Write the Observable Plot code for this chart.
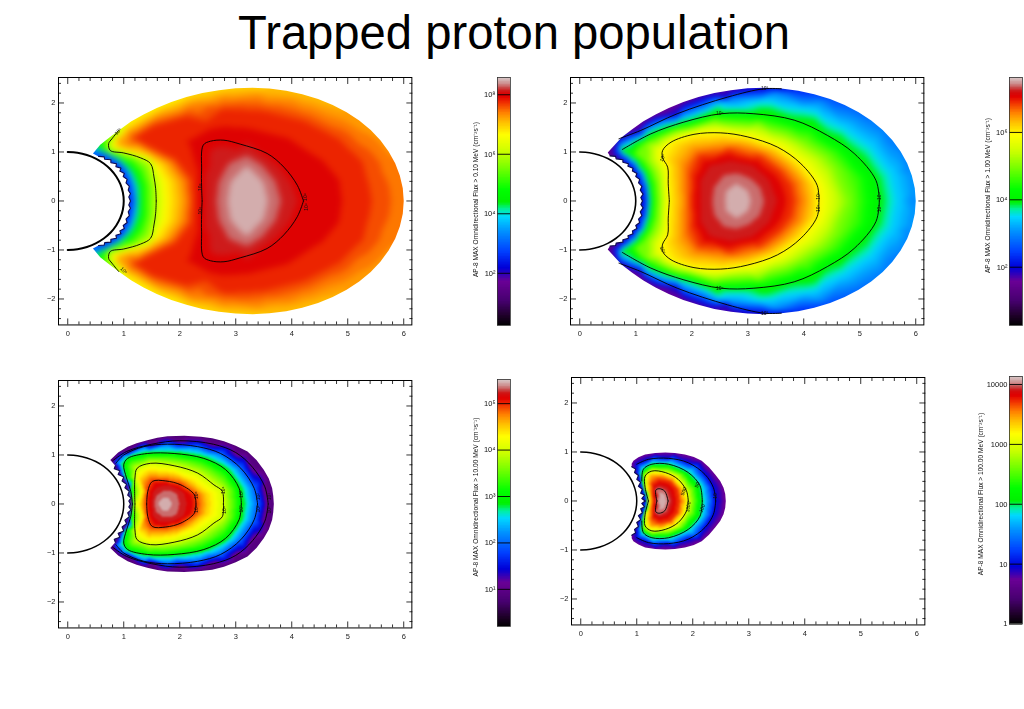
<!DOCTYPE html>
<html><head><meta charset="utf-8">
<script src="https://cdn.jsdelivr.net/npm/d3@7"></script>
<script src="https://cdn.jsdelivr.net/npm/@observablehq/plot@0.6"></script>
<style>
html,body{margin:0;padding:0;background:#fff;overflow:hidden}
#page{position:relative;width:1024px;height:709px;overflow:hidden;font-family:"Liberation Sans",Arial,sans-serif}
#title{position:absolute;left:0;width:1028px;top:5px;text-align:center;font-size:47.2px;line-height:56px;color:#000}
#page svg{position:absolute;max-width:none;background:transparent;filter:blur(.35px)}
</style></head><body><div id="page"><div id="title">Trapped proton population</div></div>
<script>
// ---- shared axes
const xMajor=[0,1,2,3,4,5,6];
const yMajor=[-2,-1,0,1,2];
const xMinor=[0.2,0.4,0.6,0.8,1.2,1.4,1.6,1.8,2.2,2.4,2.6,2.8,3.2,3.4,3.6,3.8,4.2,4.4,4.6,4.8,5.2,5.4,5.6,5.8];
const yMinor=[-2.4,-2.2,-1.8,-1.6,-1.4,-1.2,-0.8,-0.6,-0.4,-0.2,0.2,0.4,0.6,0.8,1.2,1.4,1.6,1.8,2.2,2.4];
const earthAngles=[90,80,70,60,50,40,30,20,10,0,-10,-20,-30,-40,-50,-60,-70,-80,-90];
// ---- colour table (position on bar, colour)
const rampPos=[0,.04,.1,.18,.235,.3,.38,.44,.47,.5,.55,.62,.7,.77,.82,.86,.9,.925,.945,.96,.975,1];
const rampCol=["#000000","#1e0028","#46006e","#6a0096","#0000d8","#0040ff","#0090ff","#00d8ff","#00f0a0","#00f000","#00ff00","#60ff00","#c8ff00","#ffff00","#ffc000","#ff8000","#f03000","#e00000","#d01010","#c84848","#cc8888","#d8c8c8"];
const bandCount=48;

// ---- panel 1 : > 0.10 MeV (x, y, log10 flux on rim)
const p1Rim=[[6,0,7.42],[5.983,.261,7.42],[5.93,.52,7.4],[5.847,.77,7.38],[5.73,1.01,7.35],[5.583,1.238,7.33],[5.41,1.45,7.3],[5.205,1.641,7.25],[4.98,1.81,7.2],[4.731,1.96,7.15],[4.47,2.08,7.1],[4.187,2.18,7.07],[3.9,2.25,7.05],[3.6,2.293,7.02],[3.3,2.31,7],[2.996,2.299,6.97],[2.7,2.26,6.95],[2.405,2.203,6.9],[2.12,2.12,6.85],[1.85,2.019,6.8],[1.59,1.9,6.75],[1.354,1.764,6.72],[1.13,1.62,6.7],[.91,1.44,6],[.75,1.3,5.6],[.58,1.15,4.8],[.45,.97,3]];
const p1Jag=[[1.12,0],[1.09,.08],[1.12,.15],[1.08,.22],[1.1,.3],[1.04,.37],[1.06,.44],[.99,.5],[1.01,.56],[.93,.61],[.95,.67],[.86,.7],[.87,.76],[.77,.78],[.77,.84],[.66,.85],[.65,.9],[.55,.91]];
const p1v25=[[1.14,0],[1.1,.2],[1.05,.4],[.98,.55],[.9,.7],[.75,.82],[.6,.92],[.47,.97]];
const p1v35=[[1.21,0],[1.19,.25],[1.12,.5],[1.02,.7],[.85,.87],[.7,.97],[.5,1.03]];
const p1v45=[[1.3,0],[1.28,.3],[1.2,.55],[1.05,.75],[.85,.9],[.68,1],[.55,1.1]];
const p1v53=[[1.42,0],[1.4,.4],[1.32,.65],[1.15,.85],[.9,.95],[.7,1.02],[.65,1.2]];
const p1v6=[[1.58,0],[1.57,.25],[1.54,.49],[1.48,.76],[1.3,.88],[1,.98],[.76,1.03],[.73,1.17],[.79,1.27],[.91,1.44]];
const p1v666=[[1.75,0],[1.72,.4],[1.55,.75],[1.3,.92],[1,1.02],[.82,1.1],[.85,1.25],[1,1.5]];
const p1v733=[[2.1,0],[2.05,.4],[1.82,.78],[1.45,1],[1.05,1.12],[.9,1.2],[1.1,1.42],[1.6,1.72],[2.2,1.98],[2.8,2.12],[3.4,2.15],[4,2.05],[4.6,1.8],[5.2,1.5]];
const p1v775=[[2.25,0],[2.22,.45],[1.95,.85],[1.5,1.1],[1.2,1.28],[1.5,1.5],[2.1,1.7],[2.8,1.85],[3.5,1.8],[4.2,1.6],[4.8,1.25],[5.2,.8],[5.3,.35],[5.35,0]];
const p1v79=[[2.32,0],[2.32,.7],[2.2,1.2],[2.6,1.45],[3.2,1.45],[3.9,1.25],[4.5,.8],[4.8,.4],[4.85,0]];
const p1v8=[[2.4,0],[2.39,.3],[2.39,.63],[2.42,1.14],[2.55,1.22],[2.79,1.24],[3.08,1.16],[3.56,.97],[3.86,.69],[4.1,.32],[4.21,0]];
const p1v82=[[2.62,0],[2.66,.4],[2.85,.8],[3.2,.97],[3.5,.75],[3.75,.4],[3.85,0]];
const p1v845=[[2.9,0],[2.95,.35],[3.2,.65],[3.45,.35],[3.52,0]];
const p1v855=[[3.2,0]];
const p1Levels=[[2.5,p1v25],[3.5,p1v35],[4.5,p1v45],[5.3,p1v53],[6,p1v6],[6.66,p1v666],[7.33,p1v733],[7.75,p1v775],[7.9,p1v79],[8,p1v8],[8.2,p1v82],[8.45,p1v845],[8.55,p1v855]];
const p1Lines=[p1v6,p1v8];
const p1Labels=[["10⁸",2.36,.28,-90],["10⁸",2.36,-.2,-90],["10⁸",4.24,.08,-90],["10⁸",4.26,-.12,-90],["10⁶",.9,1.42,-45],["10⁶",1,-1.42,45]];

// ---- panel 2 : > 1.00 MeV
const p2Rim=[[6,0,3.05],[5.983,.261,3.05],[5.93,.52,3.05],[5.847,.77,3.02],[5.73,1.01,3],[5.583,1.238,2.98],[5.41,1.45,2.95],[5.205,1.641,2.88],[4.98,1.81,2.8],[4.731,1.96,2.7],[4.47,2.08,2.6],[4.187,2.18,2.45],[3.9,2.25,2.3],[3.6,2.293,2.1],[3.3,2.31,1.95],[2.996,2.299,1.85],[2.7,2.26,1.75],[2.405,2.203,1.7],[2.12,2.12,1.65],[1.85,2.019,1.6],[1.59,1.9,1.55],[1.354,1.764,1.5],[1.13,1.62,1.5],[.931,1.461,1.5],[.75,1.3,1.5],[.5,.99,1.3]];
const p2Jag=[[1.12,0],[1.09,.07],[1.13,.14],[1.08,.22],[1.11,.3],[1.05,.37],[1.07,.44],[1,.5],[1.02,.56],[.94,.61],[.95,.67],[.86,.71],[.87,.76],[.77,.79],[.77,.84],[.65,.86],[.64,.91],[.54,.92]];
const p2v2=[[1.14,0],[1.08,.3],[1,.55],[.9,.7],[.75,.85],[.6,.98],[.7,1.27],[1.09,1.44],[1.74,1.78],[2.64,2.12],[3.29,2.29],[3.6,2.29]];
const p2v3=[[1.22,0],[1.2,.3],[1.12,.55],[1,.75],[.85,.9],[.7,1.05],[.8,1.2],[1.15,1.42],[1.8,1.72],[2.7,2.07],[3.5,2.2],[4.3,2.03],[4.95,1.7],[5.5,1.2],[5.85,.6],[5.95,0]];
const p2v35=[[1.25,0],[1.22,.3],[1.15,.55],[1.03,.75],[.88,.92],[.72,1.06],[1.2,1.39],[1.85,1.67],[2.5,1.98],[3.2,2.03],[4,1.87],[4.7,1.5],[5.2,1.1],[5.55,.55],[5.65,0]];
const p2v4=[[1.27,0],[1.25,.3],[1.18,.55],[1.05,.75],[.9,.92],[.76,1.05],[1.27,1.37],[1.86,1.61],[2.52,1.78],[3.11,1.78],[3.83,1.65],[4.42,1.34],[4.9,.97],[5.29,.42],[5.35,0]];
const p2v45=[[1.33,0],[1.31,.32],[1.23,.58],[1.1,.8],[.95,.95],[.82,1.03],[1.3,1.3],[1.9,1.53],[2.5,1.7],[3.3,1.65],[4.1,1.4],[4.6,1],[5,.45],[5.05,0]];
const p2v5=[[1.42,0],[1.4,.35],[1.33,.6],[1.2,.83],[1.05,.98],[1.2,1.17],[1.7,1.42],[2.4,1.62],[3.2,1.58],[4,1.2],[4.55,.7],[4.8,0]];
const p2v6=[[1.6,0],[1.58,.35],[1.57,.69],[1.48,.88],[1.48,1.03],[1.63,1.2],[2.04,1.36],[2.52,1.39],[2.99,1.31],[3.53,1.1],[3.95,.76],[4.24,.32],[4.27,0]];
const p2v65=[[1.85,0],[1.83,.4],[1.83,.75],[2.05,1.07],[2.6,1.15],[3.1,1.08],[3.6,.8],[3.95,.4],[4.03,0]];
const p2v69=[[2,0],[2,.5],[2.15,.9],[2.65,1.03],[3.2,.9],[3.55,.6],[3.75,.3],[3.8,0]];
const p2v715=[[2.12,0],[2.13,.45],[2.3,.75],[2.7,.85],[3.1,.75],[3.4,.45],[3.55,0]];
const p2v73=[[2.33,0],[2.37,.3],[2.55,.55],[2.8,.6],[3.05,.5],[3.25,.3],[3.33,0]];
const p2v748=[[2.6,0],[2.62,.2],[2.8,.35],[3,.2],[3.05,0]];
const p2v755=[[2.85,0]];
const p2Levels=[[2,p2v2],[3,p2v3],[3.5,p2v35],[4,p2v4],[4.5,p2v45],[5,p2v5],[6,p2v6],[6.5,p2v65],[6.9,p2v69],[7.15,p2v715],[7.3,p2v73],[7.48,p2v748],[7.55,p2v755]];
const p2Lines=[p2v2.slice(6),p2v4.slice(5),p2v6];
const p2Labels=[["10⁴",2.5,1.78,0],["10⁴",2.5,-1.78,0],["10²",3.3,2.29,0],["10²",3.3,-2.29,0],["10⁶",1.48,.88,-70],["10⁶",1.48,-1,70],["10⁶",4.27,.1,-90],["10⁶",4.27,-.15,-90],["10⁴",5.35,.1,-90],["10⁴",5.35,-.15,-90]];

// ---- panel 3 : > 10.00 MeV
const p3Rim=[[3.68,0,.9],[3.67,.17,.9],[3.65,.32,.9],[3.59,.52,.9],[3.5,.7,.9],[3.37,.9,.88],[3.21,1.07,.86],[3,1.19,.85],[2.79,1.28,.85],[2.58,1.34,.85],[2.38,1.37,.85],[2.08,1.39,.85],[1.78,1.38,.85],[1.6,1.35,.85],[1.42,1.3,.85],[1.23,1.24,.85],[1.07,1.17,.85],[.9,1.05,.85],[.76,.9,.85]];
const p3Jag=[[1.12,0],[1.09,.06],[1.13,.12],[1.07,.18],[1.1,.26],[1.02,.33],[1.05,.4],[.97,.47],[1,.55],[.9,.6],[.93,.68],[.83,.72],[.85,.78]];
const p3v1=[[1.14,0],[1.07,.3],[1.02,.46],[.92,.62],[.84,.8],[.8,.88],[1.05,1.07],[1.5,1.22],[2,1.29],[2.6,1.22],[3,1.05],[3.3,.75],[3.52,.35],[3.58,0]];
const p3v2=[[1.15,0],[1.1,.26],[1.05,.46],[.96,.64],[.86,.83],[1,1],[1.36,1.17],[1.78,1.22],[2.32,1.17],[2.73,1.03],[3.09,.73],[3.33,.32],[3.39,0]];
const p3v3=[[1.155,0],[1.125,.26],[1.05,.53],[1,.8],[1.07,.93],[1.42,1.03],[1.9,1.03],[2.43,.93],[2.82,.7],[3.06,.32],[3.1,0]];
const p3v4=[[1.2,0],[1.2,.53],[1.24,.73],[1.48,.83],[1.9,.78],[2.32,.63],[2.61,.39],[2.76,.26],[2.78,0]];
const p3v45=[[1.3,0],[1.3,.5],[1.45,.65],[1.8,.62],[2.2,.45],[2.47,.2],[2.5,0]];
const p3v5=[[1.41,0],[1.43,.26],[1.51,.46],[1.75,.47],[2.02,.39],[2.26,.19],[2.29,0]];
const p3v51=[[1.45,0],[1.47,.24],[1.56,.42],[1.75,.43],[2,.33],[2.2,.12],[2.22,0]];
const p3v525=[[1.52,0],[1.55,.2],[1.7,.32],[1.85,.33],[2,.25],[2.05,0]];
const p3v54=[[1.62,0],[1.7,.12],[1.78,.12],[1.85,0]];
const p3Levels=[[1,p3v1],[2,p3v2],[3,p3v3],[4,p3v4],[4.5,p3v45],[5,p3v5],[5.1,p3v51],[5.25,p3v525],[5.42,p3v54]];
const p3Lines=[p3v1.slice(5),p3v2.slice(4),p3v3,p3v4,p3v5];
const p3Labels=[["10⁴",2.78,.28,-90],["10⁴",2.8,-.12,-90],["10³",3.1,.2,-90],["10³",3.1,-.1,-90],["10²",3.4,.15,-90],["10²",3.4,-.1,-90],["10¹",3.6,.15,-90],["10¹",3.6,-.12,-90],["10⁵",2.29,.18,-90],["10⁵",2.29,-.1,-90]];

// ---- panel 4 : > 100.00 MeV
const p4Rim=[[2.59,0,.7],[2.58,.14,.7],[2.55,.27,.7],[2.49,.41,.7],[2.4,.54,.7],[2.29,.69,.7],[2.16,.82,.7],[2.02,.9,.7],[1.86,.95,.7],[1.68,.98,.7],[1.51,.99,.7],[1.33,.98,.7],[1.15,.95,.7],[1.03,.89,.7],[.94,.82,.7],[.91,.76,.7]];
const p4Jag=[[1.15,0],[1.09,.05],[1.14,.12],[1.07,.16],[1.1,.24],[1.03,.3],[1.07,.38],[1,.44],[1.03,.52],[.96,.58],[.98,.65],[.91,.7]];
const p4v1=[[1.16,0],[1.1,.24],[1.05,.44],[1,.6],[1,.75],[1.21,.85],[1.57,.87],[1.92,.78],[2.22,.54],[2.37,.27],[2.41,0]];
const p4v2=[[1.17,0],[1.15,.2],[1.09,.41],[1.12,.65],[1.27,.75],[1.57,.75],[1.92,.58],[2.13,.31],[2.17,0]];
const p4v3=[[1.21,0],[1.15,.27],[1.15,.51],[1.27,.61],[1.51,.58],[1.74,.44],[1.89,.2],[1.92,0]];
const p4v34=[[1.25,0],[1.23,.15],[1.2,.35],[1.25,.52],[1.45,.54],[1.65,.47],[1.8,.25],[1.86,0]];
const p4v37=[[1.3,0],[1.28,.15],[1.27,.35],[1.4,.45],[1.6,.4],[1.72,.25],[1.76,0]];
const p4v4=[[1.36,0],[1.34,.22],[1.4,.25],[1.5,.2],[1.56,0]];
const p4v41=[[1.43,0],[1.44,.1],[1.48,.1],[1.5,0]];
const p4Levels=[[1,p4v1],[2,p4v2],[3,p4v3],[3.4,p4v34],[3.7,p4v37],[4,p4v4],[4.1,p4v41]];
const p4Lines=[p4v1.slice(4),p4v2.slice(2),p4v3,p4v4];
const p4Labels=[["10",2.41,.1,-90],["100",2.17,-.15,-70],["50",2.08,.33,-70],["1000",1.92,-.12,-80],["500",1.84,.2,-70]];

// ---- colour bar ranges and ticks
const bar1Ticks=[2,4,6,8], bar1Names=["10²","10⁴","10⁶","10⁸"];
const bar2Ticks=[2,4,6], bar2Names=["10²","10⁴","10⁶"];
const bar3Ticks=[1,2,3,4,5], bar3Names=["10¹","10²","10³","10⁴","10⁵"];
const bar4Ticks=[0,1,2,3,4], bar4Names=["1","10","100","1000","10000"];

const ramp=d3.scaleLinear(rampPos,rampCol);
const page=document.getElementById("page");
function colorOpts(lo,hi){
  return {type:"threshold",
    domain:d3.range(1,bandCount).map(i=>lo+(hi-lo)*i/bandCount),
    range:d3.range(bandCount).map(i=>ramp((i+.5)/bandCount))};
}
const mir=pts=>pts.map(([x,y])=>[x,-y]);
const XD=[-.165,6.145], YD=[-2.53,2.52];
function panel({fl,ft,rim,jag,levels,lines,labels,lo,hi,earthW,soft}){
  const fw=(XD[1]-XD[0])*56, fh=(YD[1]-YD[0])*49;
  const ml=22,mt=2,mb=18,mr=2;
  const samples=[];
  for(const [x,y,v] of rim){samples.push([x,y,v]); if(y) samples.push([x,-y,v]);}
  for(const [v,pts] of levels) for(const [x,y] of pts){samples.push([x,y,v]); if(y) samples.push([x,-y,v]);}
  const upper=[...rim.map(d=>[d[0],d[1]]),...jag.slice().reverse()];
  const lower=mir(upper).reverse();
  const ccw=[...upper,...lower.slice(1),upper[0]];
  const cw=ccw.slice().reverse();
  // the white surround reaches past the frame, to cover the softened raster's edge
  const mx0=XD[0]-.4,mx1=XD[1]+.4,my0=YD[0]-.4,my1=YD[1]+.4;
  const corners=[[mx0,my0],[mx1,my0],[mx1,my1],[mx0,my1],[mx0,my0]];
  const mask=[...corners,...cw,[mx0,my0]];
  const earth=earthAngles.map(a=>[Math.cos(a*Math.PI/180),Math.sin(a*Math.PI/180)]);
  const lineMarks=[];
  for(const l of lines){
    lineMarks.push(Plot.line(l,{x:"0",y:"1",stroke:"#000",strokeWidth:.9,curve:"catmull-rom"}));
    lineMarks.push(Plot.line(mir(l),{x:"0",y:"1",stroke:"#000",strokeWidth:.9,curve:"catmull-rom"}));
  }
  const tick=(anchor,ticks,size,fmt,pad)=>anchor==="bottom"||anchor==="top"
    ?Plot.axisX({anchor,ticks,tickSize:size,tickFormat:fmt,tickPadding:pad,label:null,fontSize:7.5,fill:"#222",strokeWidth:.8})
    :Plot.axisY({anchor,ticks,tickSize:size,tickFormat:fmt,tickPadding:pad,label:null,fontSize:7.5,fill:"#222",strokeWidth:.8});
  const none=()=>"";
  const num=d=>d<0?"−"+(-d):String(d);
  const svg=Plot.plot({
    width:fw+ml+mr,height:fh+mt+mb,marginLeft:ml,marginRight:mr,marginTop:mt,marginBottom:mb,
    style:{background:"transparent",fontFamily:"Liberation Sans"},
    x:{domain:XD,label:null},y:{domain:YD,label:null},
    color:colorOpts(lo,hi),
    marks:[
      Plot.raster(samples,{x:"0",y:"1",fill:"2",interpolate:"barycentric",pixelSize:1}),
      Plot.line(mask,{x:"0",y:"1",fill:"white",stroke:"none"}),
      ...lineMarks,
      Plot.line(jag,{x:"0",y:"1",stroke:"#0c0c50",strokeWidth:1.1}),
      Plot.line(mir(jag),{x:"0",y:"1",stroke:"#0c0c50",strokeWidth:1.1}),
      Plot.line(earth,{x:"0",y:"1",stroke:"#000",strokeWidth:earthW,curve:"catmull-rom"}),
      Plot.text(labels,{x:"1",y:"2",text:"0",rotate:"3",fontSize:5,fill:"#111"}),
      tick("bottom",xMajor,-6,num,12),tick("top",xMajor,-6,none,0),
      tick("bottom",xMinor,-3,none,0),tick("top",xMinor,-3,none,0),
      tick("left",yMajor,-6,num,9),tick("right",yMajor,-6,none,0),
      tick("left",yMinor,-3,none,0),tick("right",yMinor,-3,none,0),
      Plot.frame({stroke:"#000",strokeWidth:1})
    ]});
  const img=svg.querySelector("image");
  if(img) img.style.filter="blur("+soft+"px)";
  svg.style.left=(fl-ml)+"px"; svg.style.top=(ft-mt)+"px";
  page.appendChild(svg);
}
function bar({bl,bt,bb,lo,hi,ticks,names,text,labelX,labelY}){
  const ml=37,mr=1,bw=13,mt=6,mb=6;
  const svg=Plot.plot({
    width:ml+bw+mr,height:bb-bt+mt+mb,marginLeft:ml,marginRight:mr,marginTop:mt,marginBottom:mb,
    style:{background:"transparent",fontFamily:"Liberation Sans"},
    x:{domain:[0,1],axis:null},y:{domain:[lo,hi],axis:null},
    color:{type:"linear",domain:rampPos.map(f=>lo+f*(hi-lo)),range:rampCol},
    marks:[
      Plot.rect(d3.range(160).map(i=>lo+(hi-lo)*(i+.5)/160),{x1:0,x2:1,y1:d=>Math.max(lo,d-(hi-lo)/150),y2:d=>Math.min(hi,d+(hi-lo)/150),fill:d=>d}),
      Plot.ruleY(ticks,{stroke:"#000",strokeWidth:.9}),
      Plot.axisY({anchor:"left",ticks,tickSize:0,tickPadding:2,tickFormat:(d,i)=>names[i],label:null,fontSize:7.5,fill:"#111"}),
      Plot.text([text],{frameAnchor:"left",dx:labelX-bl,dy:labelY-(bt+bb)/2,rotate:-90,textAnchor:"middle",fontSize:6.6,fill:"#111"}),
      Plot.frame({stroke:"#333",strokeWidth:.8})
    ]});
  svg.style.left=(bl-ml)+"px"; svg.style.top=(bt-mt)+"px";
  page.appendChild(svg);
}
panel({fl:58,ft:77,rim:p1Rim,jag:p1Jag,levels:p1Levels,lines:p1Lines,labels:p1Labels,lo:.245,hi:8.58,earthW:2,soft:3});
panel({fl:570,ft:77,rim:p2Rim,jag:p2Jag,levels:p2Levels,lines:p2Lines,labels:p2Labels,lo:.27,hi:7.63,earthW:1.6,soft:2.5});
panel({fl:58,ft:379.5,rim:p3Rim,jag:p3Jag,levels:p3Levels,lines:p3Lines,labels:p3Labels,lo:.2,hi:5.52,earthW:1.5,soft:1.2});
panel({fl:571,ft:377,rim:p4Rim,jag:p4Jag,levels:p4Levels,lines:p4Lines,labels:p4Labels,lo:0,hi:4.134,earthW:1.5,soft:.8});
bar({bl:497,bt:77,bb:325,lo:.245,hi:8.58,ticks:bar1Ticks,names:bar1Names,text:"AP-8 MAX Omnidirectional Flux > 0.10 MeV (cm⁻²s⁻¹)",labelX:475,labelY:199});
bar({bl:1009,bt:77,bb:325,lo:.27,hi:7.63,ticks:bar2Ticks,names:bar2Names,text:"AP-8 MAX Omnidirectional Flux > 1.00 MeV (cm⁻²s⁻¹)",labelX:987,labelY:195});
bar({bl:497,bt:379,bb:626,lo:.2,hi:5.52,ticks:bar3Ticks,names:bar3Names,text:"AP-8 MAX Omnidirectional Flux > 10.00 MeV (cm⁻²s⁻¹)",labelX:475,labelY:496.5});
bar({bl:1009,bt:376,bb:623.5,lo:0,hi:4.134,ticks:bar4Ticks,names:bar4Names,text:"AP-8 MAX Omnidirectional Flux > 100.00 MeV (cm⁻²s⁻¹)",labelX:980,labelY:493.5});
</script></body></html>
